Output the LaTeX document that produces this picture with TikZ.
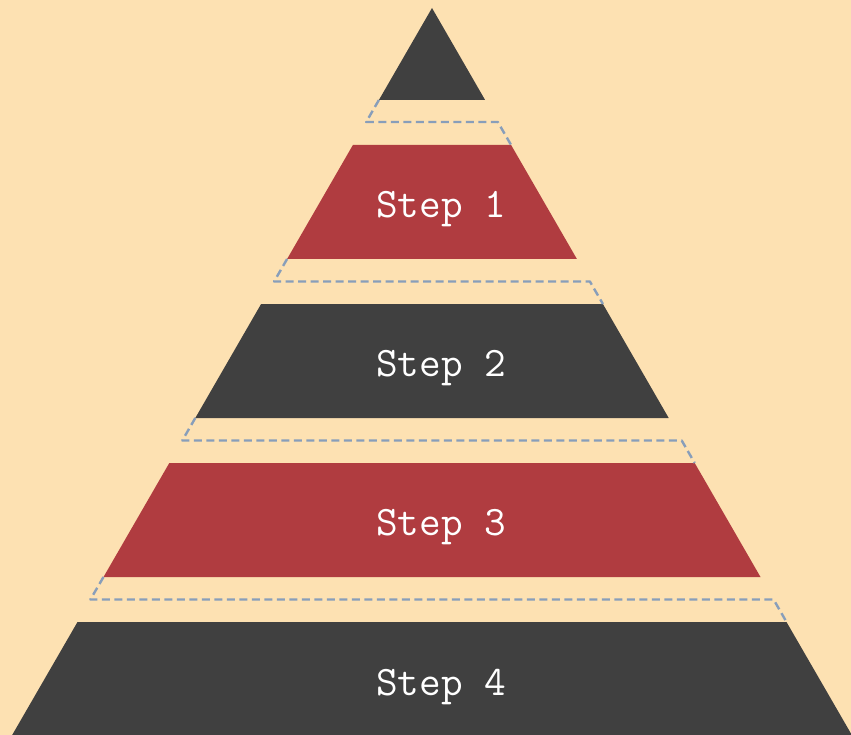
\documentclass[tikz,border=0pt]{standalone}
\usepackage{xcolor}
\usepackage{tikz}

\definecolor{pyrbg}{RGB}{253,225,178}
\definecolor{pyrdark}{RGB}{64,64,64}
\definecolor{pyrred}{RGB}{176,60,64}
\definecolor{pyrdash}{RGB}{136,158,186}

\begin{document}
\begin{tikzpicture}[x=1pt,y=1pt,yscale=-1,xscale=1,
  gapline/.style={color=pyrdash,line width=2.4pt,dash pattern=on 8pt off 4.5pt,line join=round},
  steplabel/.style={anchor=base,text=white,font=\fontsize{42}{44}\selectfont\ttfamily}]
%set diagram size 851 x 735
\clip (0,0) rectangle (851,735);
\fill [pyrbg] (0,0) rectangle (851,735);

%Corners of the layers
\coordinate (apex) at (432,8);
\coordinate (tipbl) at (378.9,100);   \coordinate (tipbr) at (485.1,100);
\coordinate (s1tl) at (352.9,145);    \coordinate (s1tr) at (511.1,145);
\coordinate (s1bl) at (287.1,259);    \coordinate (s1br) at (576.9,259);
\coordinate (s2tl) at (261.1,304);    \coordinate (s2tr) at (602.9,304);
\coordinate (s2bl) at (195.3,418);    \coordinate (s2br) at (668.7,418);
\coordinate (s3tl) at (169.3,463);    \coordinate (s3tr) at (694.7,463);
\coordinate (s3bl) at (103.5,577);    \coordinate (s3br) at (760.5,577);
\coordinate (s4tl) at (77.5,622);     \coordinate (s4tr) at (786.5,622);
\coordinate (s4bl) at (11.6,736);     \coordinate (s4br) at (852.4,736);

%Gap corners
\coordinate (g1l) at (366.2,122);     \coordinate (g1r) at (497.8,122);
\coordinate (g2l) at (274.1,281.5);   \coordinate (g2r) at (589.9,281.5);
\coordinate (g3l) at (182.3,440.5);   \coordinate (g3r) at (681.7,440.5);
\coordinate (g4l) at (90.4,599.5);    \coordinate (g4r) at (773.6,599.5);

%Shape: Tip
\fill [pyrdark] (apex) -- (tipbr) -- (tipbl) -- cycle;
%Shape: Step 1
\fill [pyrred] (s1tl) -- (s1tr) -- (s1br) -- (s1bl) -- cycle;
%Shape: Step 2
\fill [pyrdark] (s2tl) -- (s2tr) -- (s2br) -- (s2bl) -- cycle;
%Shape: Step 3
\fill [pyrred] (s3tl) -- (s3tr) -- (s3br) -- (s3bl) -- cycle;
%Shape: Step 4
\fill [pyrdark] (s4tl) -- (s4tr) -- (s4br) -- (s4bl) -- cycle;

%Dashed Lines
\draw [gapline] (tipbl) -- (g1l) -- (g1r) -- (s1tr);
\draw [gapline] (s1bl) -- (g2l) -- (g2r) -- (s2tr);
\draw [gapline] (s2bl) -- (g3l) -- (g3r) -- (s3tr);
\draw [gapline] (s3bl) -- (g4l) -- (g4r) -- (s4tr);

% Text Node
\node [steplabel] (step1) at (441,218) {Step 1};
% Text Node
\node [steplabel] (step2) at (441,376) {Step 2};
% Text Node
\node [steplabel] (step3) at (441,535) {Step 3};
% Text Node
\node [steplabel] (step4) at (441,695) {Step 4};

\end{tikzpicture}
\end{document}
